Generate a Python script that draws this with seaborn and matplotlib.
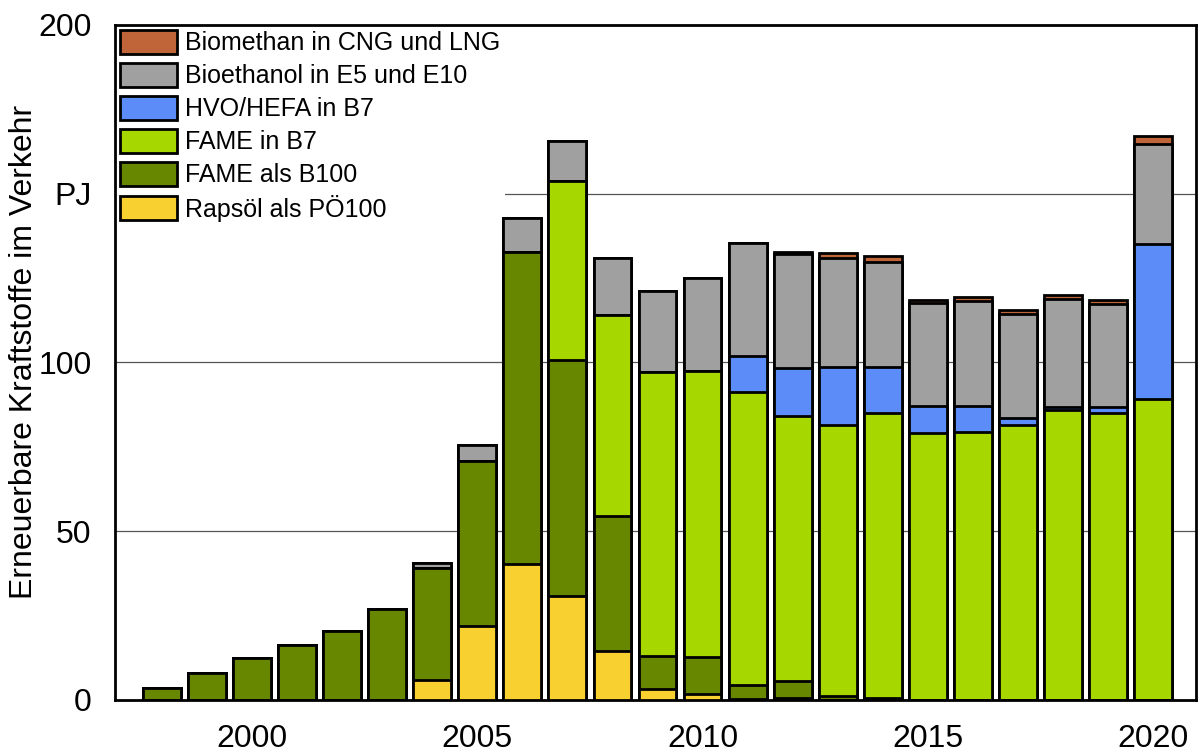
import numpy as np
import pandas as pd
import seaborn as sns
import matplotlib.pyplot as plt
from matplotlib.patches import Patch

# Values in PJ
years = list(range(1998, 2021))
rapsoel = [0, 0, 0, 0, 0, 0, 5.8, 21.8, 40.3, 30.7, 14.5, 3.3, 1.9, 0.4, 0.7, 0.1, 0.1, 0, 0, 0, 0, 0, 0]
fame_b100 = [3.6, 7.9, 12.5, 16.4, 20.3, 26.9, 33.3, 49.0, 92.4, 70.0, 40.1, 9.7, 10.9, 4.0, 4.9, 1.1, 0.4, 0.1, 0, 0, 0, 0, 0]
fame_b7 = [0, 0, 0, 0, 0, 0, 0, 0, 0, 53.0, 59.4, 84.1, 84.7, 87.0, 78.5, 80.3, 84.4, 79.1, 79.5, 81.5, 85.8, 84.9, 89.3]
hvo = [0, 0, 0, 0, 0, 0, 0, 0, 0, 0, 0, 0, 0, 10.5, 14.2, 17.3, 13.9, 7.8, 7.7, 2.0, 1.1, 2.0, 45.7]
ethanol = [0, 0, 0, 0, 0, 0, 1.4, 4.7, 10.2, 12.0, 17.0, 24.2, 27.4, 33.4, 33.7, 32.1, 30.9, 30.5, 31.1, 30.9, 31.9, 30.5, 29.6]
biomethan = [0, 0, 0, 0, 0, 0, 0, 0, 0, 0, 0, 0, 0, 0.2, 0.8, 1.4, 1.9, 1.1, 1.2, 1.3, 1.2, 1.2, 2.4]

labels = ["Rapsöl als PÖ100", "FAME als B100", "FAME in B7", "HVO/HEFA in B7",
          "Bioethanol in E5 und E10", "Biomethan in CNG und LNG"]
colors = ["#F8D030", "#678700", "#A6D800", "#5B8CF8", "#A0A0A0", "#C0643A"]
series = [rapsoel, fame_b100, fame_b7, hvo, ethanol, biomethan]

df = pd.DataFrame({"year": years})
cum = np.cumsum(np.array(series), axis=0)

sns.set_style("white")
plt.rcParams['font.family'] = ['Liberation Sans', 'DejaVu Sans']
plt.rcParams['text.color'] = 'black'
plt.rcParams['axes.labelcolor'] = 'black'
plt.rcParams['xtick.color'] = 'black'
plt.rcParams['ytick.color'] = 'black'

fig = plt.figure(figsize=(11.98, 7.53), dpi=100)
ax = fig.add_axes([0.096, 0.0704, 0.9023, 0.8964])

# stacked bars: draw cumulative totals from the top layer down
for i in range(len(series) - 1, -1, -1):
    df["val"] = cum[i]
    sns.barplot(data=df, x="year", y="val", color=colors[i], saturation=1,
                edgecolor="black", linewidth=2, width=0.84, errorbar=None,
                ax=ax, zorder=3)

ax.set_xlim(-1.04, 22.95)
ax.set_ylim(0, 200)
ax.set_xticks([2, 7, 12, 17, 22])
ax.set_xticklabels(["2000", "2005", "2010", "2015", "2020"])
ax.set_yticks([0, 50, 100, 150, 200])
ax.set_yticklabels(["0", "50", "100", "PJ", "200"])
ax.tick_params(axis="both", labelsize=23, length=9, width=2, direction="out",
               color="black", labelcolor="black")
ax.tick_params(axis="y", pad=8)
ax.tick_params(axis="x", pad=8)
ax.set_xlabel("")
ax.set_ylabel("Erneuerbare Kraftstoffe im Verkehr", fontsize=23, color="black")
ax.yaxis.set_label_coords(-0.0705, 0.515)

for y in [50, 100, 150]:
    ax.axhline(y, color="#555555", linewidth=0.9, zorder=1)

for s in ax.spines.values():
    s.set_visible(True)
    s.set_color("black")
    s.set_linewidth(2)

handles = [Patch(facecolor=colors[i], edgecolor="black", linewidth=2, label=labels[i])
           for i in range(len(series) - 1, -1, -1)]
leg = ax.legend(handles=handles, loc="upper left", bbox_to_anchor=(0.0, 1.0),
                fontsize=18, frameon=True, borderaxespad=0.0, borderpad=0.2,
                handlelength=2.28, handleheight=1.1, handletextpad=0.3,
                labelspacing=0.30, fancybox=False)
leg.get_frame().set_edgecolor("none")
leg.get_frame().set_facecolor("white")
leg.get_frame().set_alpha(1)
# legend sits above the grid but below the bars
leg.set_zorder(2)

fig.savefig("out.png", dpi=100)
plt.close()
